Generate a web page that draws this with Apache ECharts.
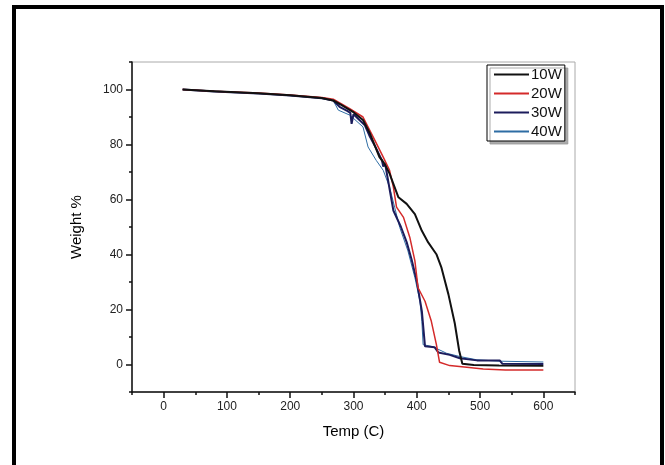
<!DOCTYPE html>
<html>
<head>
<meta charset="utf-8">
<script src="https://cdn.jsdelivr.net/npm/echarts@6/dist/echarts.min.js"></script>
<style>
  html, body { margin: 0; padding: 0; background: #fff; }
  #chart { position: absolute; left: 0; top: 0; width: 665px; height: 465px; }
  #frame { position: absolute; left: 12px; top: 5px; width: 644px; height: 480px;
           border: 4px solid #000; border-bottom: none; pointer-events: none; }
</style>
</head>
<body>
<div id="chart"></div>
<div id="frame"></div>
<script>
// Series names
const seriesNames = ['10W', '20W', '30W', '40W'];

// 10W
const temp10 = [30, 80, 150, 200, 250, 268, 280, 299, 315, 326, 341, 346, 349, 357, 363, 371, 384, 397, 408, 418, 431, 439, 450, 460, 467, 472, 490, 530, 600];
const wt10   = [100, 99.4, 98.6, 97.9, 96.9, 96.0, 94.5, 91.9, 88.9, 84.0, 75.4, 74, 73, 69.4, 65.7, 60.8, 58.4, 54.7, 48.6, 44.4, 40.1, 35.2, 25.5, 15, 5, 0.3, -0.2, -0.4, -0.5];

// 20W
const temp20 = [30, 80, 150, 200, 250, 268, 294, 315, 331, 347, 357, 363, 368, 379, 389, 397, 402, 413, 423, 431, 436, 452, 479, 505, 540, 600];
const wt20   = [100, 99.4, 98.7, 98.0, 97.1, 96.5, 93, 90, 82.8, 75.4, 70.6, 64.5, 57.2, 53.5, 46.2, 37.7, 27.9, 23, 15.7, 7.2, 0.8, -0.4, -1.0, -1.6, -2.0, -2.0];

// 30W
const temp30 = [30, 80, 150, 200, 250, 268, 278, 290, 295, 297, 300, 318, 326, 336, 345, 347, 350, 363, 375, 384, 392, 400, 408, 413, 428, 434, 452, 468, 495, 531, 535, 600];
const wt30   = [100, 99.3, 98.5, 97.8, 96.8, 96.0, 93.7, 92.2, 91.5, 87.5, 91.0, 87, 82.8, 78.5, 74.2, 72.0, 73.0, 56, 50, 44.5, 38, 30.3, 19.4, 6.6, 6.3, 4.4, 3.5, 2.3, 1.5, 1.5, 0.3, 0.2];

// 40W
const temp40 = [30, 80, 150, 200, 250, 268, 276, 294, 300, 315, 323, 336, 347, 357, 365, 373, 386, 397, 405, 408, 410, 425, 447, 468, 495, 532, 600];
const wt40   = [100, 99.3, 98.6, 97.8, 96.8, 96.0, 92.5, 90.7, 89.5, 86.4, 79.1, 74.2, 70.6, 64.5, 57.2, 49.9, 41.3, 31.6, 23, 15.7, 7.2, 6.5, 4.1, 2.9, 1.7, 1.2, 0.9];

// Tick values
const xMajorTicks = [0, 100, 200, 300, 400, 500, 600];
const xMinorTicks = [-50, 50, 150, 250, 350, 450, 550, 650];
const yMajorTicks = [0, 20, 40, 60, 80, 100];
const yMinorTicks = [-10, 10, 30, 50, 70, 90, 110];

const colors = ['#111111', '#d42a2a', '#1c1c5c', '#2e6da4'];
const widths = [2, 1.5, 2, 1];

function zip(t, w) { return t.map((v, i) => [v, w[i]]); }
const allData = [zip(temp10, wt10), zip(temp20, wt20), zip(temp30, wt30), zip(temp40, wt40)];

const font = "'Liberation Sans', Arial, sans-serif";
const xRange = { min: -50, max: 650 };
const yRange = { min: -10, max: 110 };

const chart = echarts.init(document.getElementById('chart'), null, { renderer: 'canvas' });
chart.setOption({
  animation: false,
  backgroundColor: 'transparent',
  grid: { left: 132, right: 90, top: 62, bottom: 73, show: true, borderColor: '#aaa', borderWidth: 1, backgroundColor: 'transparent' },
  legend: {
    orient: 'vertical',
    left: 487, top: 65,
    itemWidth: 35, itemHeight: 14, itemGap: 4,
    padding: [2, 3, 2, 6],
    borderColor: '#000', borderWidth: 1,
    backgroundColor: '#fff',
    shadowColor: 'rgba(150,150,150,0.8)', shadowBlur: 0, shadowOffsetX: 3, shadowOffsetY: 3,
    itemStyle: { opacity: 0 },
    textStyle: { fontFamily: font, fontSize: 15, color: '#111', padding: [0, 0, 0, -3] },
    data: seriesNames
  },
  xAxis: [{
    type: 'value', min: xRange.min, max: xRange.max,
    position: 'bottom',
    name: 'Temp (C)', nameLocation: 'middle', nameGap: 32,
    nameTextStyle: { fontFamily: font, fontSize: 15, color: '#000' },
    axisLine: { show: true, onZero: false, lineStyle: { color: '#111', width: 1.5 } },
    axisTick: { show: true, inside: false, length: 6, lineStyle: { color: '#111', width: 1.5 }, customValues: xMajorTicks },
    axisLabel: { fontFamily: font, fontSize: 12, color: '#222', margin: 9, customValues: xMajorTicks },
    splitLine: { show: false }
  }, {
    type: 'value', min: xRange.min, max: xRange.max,
    position: 'bottom', gridIndex: 0,
    axisLine: { show: false, onZero: false },
    axisTick: { show: true, inside: false, length: 3, lineStyle: { color: '#111', width: 1.5 }, customValues: xMinorTicks },
    axisLabel: { show: false },
    splitLine: { show: false }
  }],
  yAxis: [{
    type: 'value', min: yRange.min, max: yRange.max,
    position: 'left',
    name: 'Weight %', nameLocation: 'middle', nameGap: 48,
    nameTextStyle: { fontFamily: font, fontSize: 15, color: '#000' },
    axisLine: { show: true, onZero: false, lineStyle: { color: '#111', width: 1.5 } },
    axisTick: { show: true, inside: false, length: 6, lineStyle: { color: '#111', width: 1.5 }, customValues: yMajorTicks },
    axisLabel: { fontFamily: font, fontSize: 12, color: '#222', margin: 9, customValues: yMajorTicks },
    splitLine: { show: false }
  }, {
    type: 'value', min: yRange.min, max: yRange.max,
    position: 'left', gridIndex: 0,
    axisLine: { show: false, onZero: false },
    axisTick: { show: true, inside: false, length: 3, lineStyle: { color: '#111', width: 1.5 }, customValues: yMinorTicks },
    axisLabel: { show: false },
    splitLine: { show: false }
  }],
  series: seriesNames.map((name, i) => ({
    name: name,
    type: 'line',
    xAxisIndex: 0, yAxisIndex: 0,
    data: allData[i],
    showSymbol: false, symbol: 'none',
    lineStyle: { color: colors[i], width: widths[i] },
    itemStyle: { color: colors[i] },
    z: 10 - i
  }))
});
</script>
</body>
</html>
